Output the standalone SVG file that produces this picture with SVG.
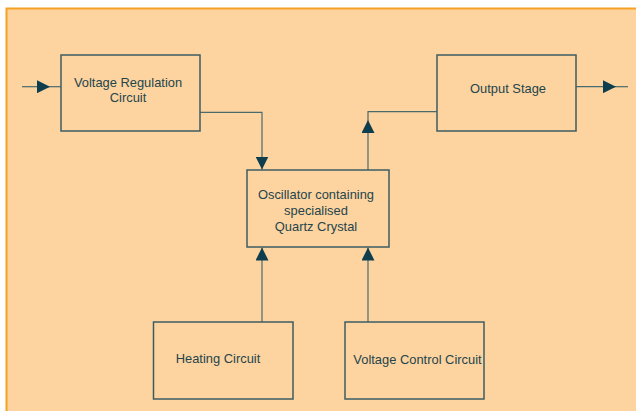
<svg xmlns="http://www.w3.org/2000/svg" width="636" height="411" viewBox="0 0 636 411">
<style>
.box{fill:none;stroke:#3c5c62;stroke-width:1.5}
.t{font-family:"Liberation Sans",Arial,sans-serif;font-size:12.9px;fill:#24444c;text-anchor:middle}
.c{fill:none;stroke:#4a6a6e;stroke-width:1.2}
</style>
<defs>
<marker id="ah" viewBox="0 0 10 10" refX="10" refY="5" markerWidth="13" markerHeight="13" markerUnits="userSpaceOnUse" orient="auto">
<path d="M0,0 L10,5 L0,10 Z" fill="#0e3e4e"/>
</marker>
</defs>
<rect x="0" y="0" width="636" height="411" fill="#ffffff"/>
<rect x="6.5" y="8.5" width="640" height="410" fill="#fdd4a0" stroke="#f5a123" stroke-width="2"/>
<g id="connectors">
<path class="c" d="M22,86.7 H50" marker-end="url(#ah)"/>
<path class="c" d="M50,86.7 H61"/>
<path class="c" d="M200,112.3 H262 V169.5" marker-end="url(#ah)"/>
<path class="c" d="M368,170 V120" marker-end="url(#ah)"/>
<path class="c" d="M368,120 V111.7 H437"/>
<path class="c" d="M576,86.7 H616" marker-end="url(#ah)"/>
<path class="c" d="M616,86.7 H628"/>
<path class="c" d="M262,322 V247.5" marker-end="url(#ah)"/>
<path class="c" d="M368,322 V247.5" marker-end="url(#ah)"/>
</g>
<g id="voltage-regulation">
<rect class="box" x="61" y="55" width="139" height="76"/>
<text class="t" x="128" y="87">Voltage Regulation</text>
<text class="t" x="128" y="102">Circuit</text>
</g>
<g id="output-stage">
<rect class="box" x="437" y="55" width="139" height="76"/>
<text class="t" x="508" y="93">Output Stage</text>
</g>
<g id="oscillator">
<rect class="box" x="247" y="170" width="142" height="77"/>
<text class="t" x="316" y="199">Oscillator containing</text>
<text class="t" x="316" y="215">specialised</text>
<text class="t" x="316" y="231">Quartz Crystal</text>
</g>
<g id="heating">
<rect class="box" x="153.5" y="322" width="139.5" height="77"/>
<text class="t" x="218" y="363">Heating Circuit</text>
</g>
<g id="voltage-control">
<rect class="box" x="345" y="322" width="139" height="77"/>
<text class="t" x="417.5" y="364">Voltage Control Circuit</text>
</g>
</svg>
